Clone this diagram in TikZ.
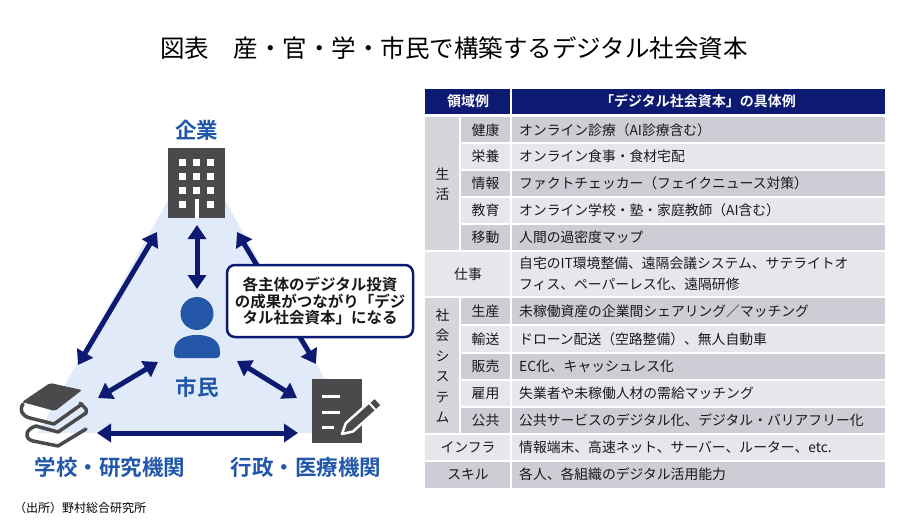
\documentclass[tikz,border=0pt]{standalone}
\usepackage{fontspec}
\setmainfont{Noto Sans CJK JP}[BoldFont={Noto Sans CJK JP Bold}]
\usetikzlibrary{arrows.meta}

\definecolor{navy}{HTML}{0C1A72}
\definecolor{lblblue}{HTML}{2157A9}
\definecolor{pblue}{HTML}{2456A8}
\definecolor{triblue}{HTML}{E1EAF8}
\definecolor{icongray}{HTML}{4A4A4C}
\definecolor{rowdk}{HTML}{CCCDD5}
\definecolor{rowlt}{HTML}{E6E7EC}
\definecolor{colmid}{HTML}{D5D6DC}

\tikzset{
	ttl/.style={font=\fontsize{24.5}{27}\selectfont},
	lbl/.style={font=\fontsize{21.5}{24}\selectfont\bfseries, text=lblblue},
	arr/.style={draw=navy, line width=5pt, {Triangle[length=14pt,width=18pt]}-{Triangle[length=14pt,width=18pt]}},
	memo/.style={draw=navy, line width=2.5pt, fill=white, rounded corners=8pt, minimum width=186pt, minimum height=72pt, align=center, font=\fontsize{15.5}{16.5}\selectfont\bfseries, text=black!90},
	hd/.style={font=\fontsize{14}{17}\selectfont\bfseries, text=white},
	cl/.style={font=\fontsize{13.8}{20.5}\selectfont, text=black!90, inner sep=0pt},
	sep/.style={white, line width=2pt}
}

\begin{document}
\begin{tikzpicture}[x=1pt,y=-1pt]
	\useasboundingbox (0,0) rectangle (900,530);

	\node[ttl] (title) at (454,48){図表　産・官・学・市民で構築するデジタル社会資本};

	\fill[triblue] (196.5,149)--(38,433)--(355,433)--cycle;

	\fill[icongray] (168,148) rectangle (225,218);
	\foreach \cx in {182.5,196.5,210.5}
		\foreach \cy in {162,176,190}
			\fill[white] (\cx-3.5,\cy-3.5) rectangle (\cx+3.5,\cy+3.5);
	\fill[white] (179,200.5) rectangle (186,207.5);
	\fill[white] (207,200.5) rectangle (214,207.5);
	\fill[white] (194.5,199) rectangle (198.5,218.5);
	\node[lbl] (kigyo) at (196.5,130){企業};

	\fill[pblue] (197,313.5) circle (16.5);
	\fill[pblue] (174,352) .. controls (174,340) and (184,335) .. (197,335) .. controls (210,335) and (220,340) .. (220,352) -- (220,354) .. controls (220,357) and (219,358) .. (216,358) -- (178,358) .. controls (175,358) and (174,357) .. (174,354) -- cycle;
	\node[lbl] (shimin) at (197,387){市民};

	\fill[icongray, rounded corners=2pt] (22,402)--(50,383)--(82,390)--(55,411)--cycle;
	\draw[icongray, line width=3.5pt, line cap=round, line join=round] (23,404) .. controls (19,410) and (22,416) .. (30,418) -- (54,424) -- (82,404);
	\draw[icongray, line width=3.5pt, line cap=round, line join=round] (80,403) -- (86,409) -- (86,413) -- (58,432) -- (36,426);
	\draw[icongray, line width=3.5pt, line cap=round, line join=round] (36,426) .. controls (25,429) and (24,439) .. (33,441) -- (58,446) -- (86,429);
	\node[lbl] (gakko) at (110,467){学校・研究機関};

	\fill[icongray] (312,379) rectangle (362,443);
	\draw[white, line width=3pt] (322,396)--(340,396);
	\draw[white, line width=3pt] (322,412)--(340,412);
	\draw[white, line width=3pt] (322,427)--(334,427);
	\begin{scope}[shift={(342,434)}, x={(0.744pt,0.668pt)}, y={(-0.668pt,0.744pt)}]
		\filldraw[fill=icongray, draw=white, line width=2.5pt, line join=round] (0,0)--(10,5.5)--(49,5.5)--(49,-5.5)--(10,-5.5)--cycle;
		\draw[white, line width=2pt] (41,5.5)--(41,-5.5);
	\end{scope}
	\node[lbl] (gyosei) at (306,467){行政・医療機関};

	\coordinate (k-s) at (197,225);
	\coordinate (s-n) at (197,289);
	\coordinate (k-sw) at (157,232);
	\coordinate (g-n) at (78,365);
	\coordinate (k-se) at (237,232);
	\coordinate (y-n) at (316,364);
	\coordinate (g-e) at (97,433);
	\coordinate (y-w) at (298,433);
	\coordinate (g-ne) at (98,398);
	\coordinate (s-sw) at (158,362);
	\coordinate (s-se) at (237,361);
	\coordinate (y-nw) at (297,398);
	\draw[arr] (k-s)--(s-n);
	\draw[arr] (k-sw)--(g-n);
	\draw[arr] (k-se)--(y-n);
	\draw[arr] (g-e)--(y-w);
	\draw[arr] (g-ne)--(s-sw);
	\draw[arr] (s-se)--(y-nw);

	\node[memo] (memo) at (320,301){各主体のデジタル投資\\の成果がつながり「デジ\\タル社会資本」になる};

	\node[font=\fontsize{12}{14}\selectfont, anchor=west, inner sep=0pt] (src) at (14,508){（出所）野村総合研究所};

	\fill[navy] (425,89) rectangle (885,114);
	\draw[sep] (511,89)--(511,114);
	\node[hd] (h-area) at (468,101.5){領域例};
	\node[hd] (h-ex) at (698,101.5){「デジタル社会資本」の具体例};

	\fill[colmid] (425,117) rectangle (460,251);
	\fill[rowdk] (460,117) rectangle (885,143);
	\fill[rowlt] (460,143) rectangle (885,170);
	\fill[rowdk] (460,170) rectangle (885,197);
	\fill[rowlt] (460,197) rectangle (885,224);
	\fill[rowdk] (460,224) rectangle (885,251);
	\fill[rowlt] (425,251) rectangle (885,297);
	\fill[colmid] (425,297) rectangle (460,434);
	\fill[rowdk] (460,297) rectangle (885,325);
	\fill[rowlt] (460,325) rectangle (885,353);
	\fill[rowdk] (460,353) rectangle (885,380);
	\fill[rowlt] (460,380) rectangle (885,407);
	\fill[rowdk] (460,407) rectangle (885,434);
	\fill[rowlt] (425,434) rectangle (885,461);
	\fill[rowdk] (425,461) rectangle (885,488);

	\foreach \ry in {143,170,197,224,325,353,380,407}
		\draw[sep] (460,\ry)--(885,\ry);
	\foreach \ry in {251,297,434,461}
		\draw[sep] (425,\ry)--(885,\ry);
	\draw[sep] (460,117)--(460,251);
	\draw[sep] (460,297)--(460,434);
	\draw[sep] (511,117)--(511,488);

	\node[cl, align=center] (c-life) at (442.5,184){生\\活};
	\node[cl] (c-health) at (485.5,130){健康};
	\node[cl, anchor=west] (e-health) at (519,130){オンライン診療（AI診療含む）};
	\node[cl] (c-food) at (485.5,156.5){栄養};
	\node[cl, anchor=west] (e-food) at (519,156.5){オンライン食事・食材宅配};
	\node[cl] (c-info) at (485.5,183.5){情報};
	\node[cl, anchor=west] (e-info) at (519,183.5){ファクトチェッカー（フェイクニュース対策）};
	\node[cl] (c-edu) at (485.5,210.5){教育};
	\node[cl, anchor=west] (e-edu) at (519,210.5){オンライン学校・塾・家庭教師（AI含む）};
	\node[cl] (c-move) at (485.5,237.5){移動};
	\node[cl, anchor=west] (e-move) at (519,237.5){人間の過密度マップ};

	\node[cl] (c-work) at (468,274){仕事};
	\node[cl, anchor=west, align=left] (e-work) at (519,274){自宅のIT環境整備、遠隔会議システム、サテライトオ\\フィス、ペーパーレス化、遠隔研修};

	\node[cl, align=center] (c-soc) at (442.5,366){社\\会\\シ\\ス\\テ\\ム};
	\node[cl] (c-prod) at (485.5,311){生産};
	\node[cl, anchor=west] (e-prod) at (519,311){未稼働資産の企業間シェアリング／マッチング};
	\node[cl] (c-trans) at (485.5,339){輸送};
	\node[cl, anchor=west] (e-trans) at (519,339){ドローン配送（空路整備）、無人自動車};
	\node[cl] (c-sale) at (485.5,366.5){販売};
	\node[cl, anchor=west] (e-sale) at (519,366.5){EC化、キャッシュレス化};
	\node[cl] (c-job) at (485.5,393.5){雇用};
	\node[cl, anchor=west] (e-job) at (519,393.5){失業者や未稼働人材の需給マッチング};
	\node[cl] (c-pub) at (485.5,420.5){公共};
	\node[cl, anchor=west] (e-pub) at (519,420.5){公共サービスのデジタル化、デジタル・バリアフリー化};

	\node[cl] (c-infra) at (468,447.5){インフラ};
	\node[cl, anchor=west] (e-infra) at (519,447.5){情報端末、高速ネット、サーバー、ルーター、etc.};
	\node[cl] (c-skill) at (468,474.5){スキル};
	\node[cl, anchor=west] (e-skill) at (519,474.5){各人、各組織のデジタル活用能力};
\end{tikzpicture}
\end{document}
